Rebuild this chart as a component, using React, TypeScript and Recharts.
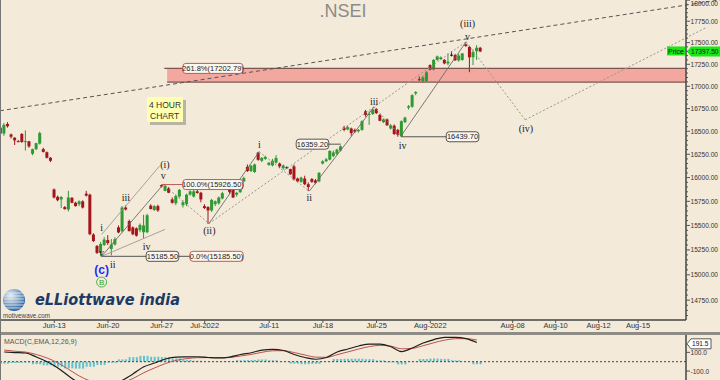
import {
  Bar,
  ComposedChart,
  Line,
  ReferenceArea,
  ReferenceDot,
  ReferenceLine,
  XAxis,
  YAxis,
} from 'recharts';

// 4-hour bars, NIFTY 50, 6 Jun – 5 Aug 2022 (three bars per session)
const opens = [
  16540, 16475, 16580, 16465, 16430, 16392, 16470, 16382, 16390, 16255, 16305, 16365, 16305, 16272, 16212,
  15875, 15797, 15770, 15690, 15665, 15787, 15735, 15720, 15750, 15830, 15820, 15407, 15290, 15220, 15300,
  15350, 15260, 15305, 15480, 15440, 15685, 15545, 15480, 15470, 15451, 15430, 15430, 15705, 15660, 15700,
  15920, 15860, 15885, 15770, 15730, 15800, 15710, 15720, 15820, 15800, 15855, 15840, 15700, 15690, 15655,
  15720, 15730, 15780, 15900, 15880, 15874, 15820, 15845, 15960, 16115, 16070, 16060, 16268, 16180, 16200,
  16135, 16130, 16160, 16150, 16100, 16110, 16090, 16120, 15990, 15955, 15990, 15930, 15985, 15970, 15960,
  16150, 16175, 16192, 16230, 16255, 16290, 16540, 16520, 16530, 16515, 16500, 16515, 16720, 16680, 16690,
  16745, 16680, 16600, 16630, 16530, 16560, 16515, 16445, 16600, 16760, 16770, 16920, 17080, 17060, 17060,
  17240, 17190, 17300, 17310, 17300, 17260, 17360, 17355, 17295, 17300, 17480, 17450, 17330, 17400, 17440,
];
const highs = [
  16560, 16590, 16600, 16475, 16435, 16405, 16480, 16510, 16395, 16310, 16375, 16495, 16320, 16280, 16220,
  15885, 15810, 15805, 15700, 15860, 15795, 15745, 15760, 15760, 15860, 15830, 15420, 15300, 15330, 15380,
  15400, 15360, 15380, 15500, 15700, 15707, 15560, 15490, 15480, 15520, 15610, 15620, 15720, 15710, 15715,
  15927, 15920, 15900, 15790, 15820, 15880, 15760, 15830, 15865, 15870, 15870, 15850, 15720, 15700, 15775,
  15760, 15800, 15850, 15960, 15900, 15885, 15850, 15985, 16010, 16140, 16135, 16150, 16275, 16220, 16235,
  16165, 16200, 16240, 16160, 16140, 16120, 16095, 16140, 16000, 16010, 16020, 15950, 15995, 15985, 16060,
  16185, 16210, 16295, 16290, 16310, 16345, 16560, 16560, 16540, 16530, 16525, 16620, 16735, 16720, 16752,
  16755, 16690, 16640, 16640, 16580, 16575, 16525, 16620, 16660, 16790, 16910, 16945, 17110, 17120, 17172,
  17250, 17310, 17350, 17340, 17310, 17375, 17400, 17370, 17370, 17380, 17490, 17460, 17420, 17470, 17450,
];
const lows = [
  16460, 16450, 16540, 16420, 16350, 16380, 16375, 16290, 16320, 16240, 16295, 16355, 16268, 16205, 16165,
  15780, 15750, 15680, 15665, 15645, 15730, 15695, 15700, 15675, 15800, 15400, 15330, 15210, 15185, 15290,
  15300, 15195, 15295, 15420, 15430, 15655, 15440, 15400, 15385, 15430, 15370, 15420, 15665, 15650, 15640,
  15895, 15855, 15835, 15725, 15710, 15790, 15685, 15700, 15810, 15790, 15830, 15740, 15670, 15515, 15640,
  15700, 15715, 15770, 15870, 15830, 15785, 15800, 15840, 15950, 16060, 16060, 16050, 16180, 16165, 16190,
  16125, 16120, 16150, 16100, 16085, 16095, 16030, 15970, 15950, 15945, 15920, 15858, 15945, 15930, 15950,
  16140, 16165, 16185, 16220, 16240, 16280, 16500, 16510, 16450, 16480, 16485, 16505, 16660, 16570, 16680,
  16690, 16610, 16590, 16560, 16520, 16460, 16440, 16440, 16590, 16740, 16760, 16900, 17060, 17040, 17050,
  17180, 17180, 17290, 17300, 17250, 17240, 17340, 17290, 17280, 17290, 17450, 17160, 17240, 17300, 17390,
];
const closes = [
  16475, 16570, 16555, 16440, 16400, 16388, 16382, 16392, 16335, 16305, 16370, 16480, 16275, 16212, 16180,
  15790, 15762, 15795, 15668, 15790, 15735, 15700, 15750, 15685, 15810, 15410, 15340, 15220, 15310, 15355,
  15320, 15305, 15360, 15428, 15685, 15665, 15441, 15410, 15395, 15505, 15500, 15605, 15670, 15700, 15655,
  15905, 15915, 15840, 15735, 15805, 15870, 15740, 15820, 15855, 15855, 15838, 15770, 15680, 15655, 15765,
  15750, 15790, 15835, 15880, 15850, 15790, 15840, 15975, 15995, 16070, 16128, 16140, 16190, 16210, 16222,
  16160, 16180, 16210, 16120, 16130, 16108, 16035, 15980, 15960, 16000, 15930, 15900, 15955, 15945, 16050,
  16175, 16195, 16285, 16270, 16300, 16336, 16515, 16545, 16480, 16495, 16515, 16610, 16680, 16690, 16740,
  16700, 16615, 16630, 16565, 16565, 16470, 16462, 16610, 16650, 16775, 16900, 16935, 17075, 17100, 17158,
  17190, 17300, 17340, 17330, 17260, 17280, 17358, 17295, 17350, 17375, 17460, 17330, 17390, 17440, 17397.5,
];

// MACD(12,26,9), one reading per session
const macdLine = [
  104, 98, 93, 50, 0, -67, -153, -228, -260, -275, -260, -200, -130, -55, -14, 29, 50, 52, 53, 45, 40, 50,
  77, 96, 125, 133, 120, 77, 45, 26, 45, 104, 136, 168, 189, 189, 160, 109, 147, 200, 237, 261, 261, 248, 205,
];
const signalLine = [
  125, 112, 103, 77, 39, -13, -82, -154, -206, -240, -249, -225, -179, -118, -67, -20, 14, 33, 43, 44, 42, 46,
  61, 78, 101, 117, 118, 98, 72, 49, 47, 75, 105, 136, 162, 175, 167, 138, 143, 171, 203, 231, 246, 247, 232,
];

const tickIdx = [15, 30, 45, 57, 75, 90, 105, 120, 143, 155, 167, 178];
const tickLabels = [
  'Jun-13', 'Jun-20', 'Jun-27', 'Jul-2022', 'Jul-11', 'Jul-18', 'Jul-25', 'Aug-2022',
  'Aug-08', 'Aug-10', 'Aug-12', 'Aug-15',
];

const zone = { from: 46.5, low: 17047, high: 17202.79 };
const lastPrice = 17397.5;
const lastMacd = 191.5;

const waveLabels = [
  { i: 28.2, p: 15476, t: 'i', deg: 'minor' },
  { i: 28.2, p: 15229, t: 'v', deg: 'minor' },
  { i: 31.3, p: 15106, t: 'ii', deg: 'minor' },
  { i: 35, p: 15790, t: 'iii', deg: 'minor' },
  { i: 40.8, p: 15289, t: 'iv', deg: 'minor' },
  { i: 45.4, p: 16020, t: 'v', deg: 'minor' },
  { i: 45.9, p: 16140, t: '(i)', deg: 'minute' },
  { i: 58.3, p: 15444, t: '(ii)', deg: 'minute' },
  { i: 72.3, p: 16353, t: 'i', deg: 'minor' },
  { i: 86.2, p: 15786, t: 'ii', deg: 'minor' },
  { i: 104.3, p: 16832, t: 'iii', deg: 'minor' },
  { i: 112.3, p: 16346, t: 'iv', deg: 'minor' },
  { i: 130.4, p: 17571, t: 'v', deg: 'minor' },
  { i: 130.4, p: 17718, t: '(iii)', deg: 'minute' },
  { i: 146.7, p: 16530, t: '(iv)', deg: 'minute' },
  { i: 28.2, p: 15042, t: '(c)', deg: 'minorAbc' },
  { i: 28.2, p: 14928, t: 'B', deg: 'intermediate' },
];

const priceBoxes = [
  { i: 59.3, p: 17202.79, t: '261.8%(17202.79)', fib: true },
  { i: 59.3, p: 15926.5, t: '100.0%(15926.50)', fib: true },
  { i: 60.3, p: 15185.5, t: '0.0%(15185.50)', fib: true },
  { i: 45.2, p: 15185.5, t: '15185.50', fib: false },
  { i: 87.1, p: 16359.2, t: '16359.20', fib: false },
  { i: 129, p: 16439.7, t: '16439.70', fib: false },
];

// [i1, p1, i2, p2]
const solidLegs = [
  [28.2, 15185, 45.4, 15926],
  [58.2, 15520, 72.2, 16278],
  [86.2, 15856, 104.3, 16770],
  [111.8, 16446, 130, 17510],
];
const dottedLegs = [
  [45.4, 15926, 58.2, 15520],
  [72.2, 16278, 86.2, 15856],
  [104.3, 16770, 111.8, 16446],
  [58.2, 15520, 130, 17510],
  [130, 17510, 146.5, 16626],
  [146.5, 16626, 196.8, 17671],
];
const channelLines = [
  [28.2, 15407, 44.5, 16128],
  [28.2, 15185, 45.9, 15459],
];
const levelLines = [
  { from: 28.2, to: 53.7, p: 15185.5, color: '#555' },
  { from: 45, to: 51.8, p: 15926.5, color: '#c05a55' },
  { from: 87, to: 95, p: 16359.2, color: '#555' },
  { from: 111.8, to: 129, p: 16439.7, color: '#555' },
];
const trendLine = [-0.17, 16726, 200.9, 18004];

const X_MIN = -0.17;
const X_MAX = 191.4;
const Y_MIN = 14557;
const Y_MAX = 18002;

const bars = opens.map((o, i) => ({ i, open: o, high: highs[i], low: lows[i], close: closes[i] }));
const macdData = macdLine.map((m, k) => ({
  i: 3 * k + 1,
  macd: m,
  signal: signalLine[k],
  hist: m - signalLine[k],
}));

const priceTicks: number[] = [];
for (let v = 14600; v <= 18000; v += 50) priceTicks.push(v);

const BG = '#f3eada';
const SANS = '"Liberation Sans", Arial, sans-serif';
const SERIF = '"Liberation Serif", "Times New Roman", serif';

function Candle(props: any) {
  const { x, y, width, height, payload } = props;
  if (y == null || !payload) return null;
  const { open, close, high, low } = payload;
  const top = Math.min(y, y + height);
  const h = Math.abs(height);
  const cx = x + width / 2;
  const lh = Math.log(high);
  const span = lh - Math.log(low) || 1;
  const py = (v: number) => top + (h * (lh - Math.log(v))) / span;
  const flat = Math.abs(close - open) < 4;
  const color = flat ? '#222' : close > open ? '#2e9a33' : '#a3151b';
  const b1 = py(Math.max(open, close));
  const b2 = py(Math.min(open, close));
  return (
    <g>
      <line x1={cx} x2={cx} y1={top} y2={top + h} stroke={color} strokeWidth={1} />
      <rect x={cx - 1.5} y={b1} width={3} height={Math.max(1, b2 - b1)} fill={color} />
    </g>
  );
}

function HistBar(props: any) {
  const { x, y, width, height } = props;
  if (y == null) return null;
  const top = Math.min(y, y + height);
  const h = Math.abs(height);
  const cx = x + width / 2;
  return (
    <g>
      {[-1, 0, 1].map((k) => (
        <rect key={k} x={cx + k * 3.58 - 1} y={top} width={2} height={h} fill="#62c2cd" />
      ))}
    </g>
  );
}

function PriceTick(props: any) {
  const { x, y, payload } = props;
  const v = payload.value;
  const major = v % 250 === 0;
  return (
    <g>
      <line x1={x} x2={x + (major ? 4 : 2)} y1={y} y2={y} stroke="#555" />
      {major && (
        <text x={x + 4.5} y={Math.max(y + 2.5, 6)} fontSize={6.6} fill="#333" fontFamily={SANS}>
          {v.toFixed(2)}
        </text>
      )}
    </g>
  );
}

function MacdTick(props: any) {
  const { x, y, payload } = props;
  return (
    <g>
      <line x1={x} x2={x + 4} y1={y} y2={y} stroke="#555" />
      <text x={x + 4.5} y={y + 2.5} fontSize={6.6} fill="#333" fontFamily={SANS}>
        {payload.value.toFixed(1)}
      </text>
    </g>
  );
}

function WaveText({ cx, cy, t, deg }: any) {
  if (cx == null) return null;
  if (deg === 'intermediate') {
    return (
      <g>
        <circle cx={cx} cy={cy} r={5} fill="none" stroke="#2aa52a" strokeWidth={0.8} />
        <text x={cx} y={cy + 3} textAnchor="middle" fontSize={8} fill="#2aa52a" fontFamily={SANS}>
          {t}
        </text>
      </g>
    );
  }
  const blue = deg === 'minorAbc';
  return (
    <text
      x={cx}
      y={cy + 3.5}
      textAnchor="middle"
      fontSize={blue ? 12 : 10}
      fontWeight={blue ? 'bold' : 'normal'}
      fill={blue ? '#1a2cff' : '#222'}
      fontFamily={blue ? SANS : SERIF}
    >
      {t}
    </text>
  );
}

function PriceBox({ cx, cy, t, fib }: any) {
  if (cx == null) return null;
  const w = t.length * 3.45 + 5;
  return (
    <g>
      <rect
        x={cx - w / 2}
        y={cy - 5}
        width={w}
        height={10}
        rx={3}
        fill="#fbf7f0"
        stroke={fib ? '#c8443e' : '#444'}
        strokeWidth={0.9}
      />
      <text x={cx} y={cy + 2.7} textAnchor="middle" fontSize={7.5} fill="#222" fontFamily={SANS}>
        {t}
      </text>
    </g>
  );
}

function PriceTag({ cx, cy }: any) {
  if (cx == null) return null;
  return (
    <g>
      <rect x={cx - 19} y={cy - 5} width={18} height={9} fill="#18e818" />
      <text x={cx - 10} y={cy + 2.5} textAnchor="middle" fontSize={7} fill="#111" fontFamily={SANS}>
        Price
      </text>
      <path
        d={`M${cx + 1},${cy} L${cx + 5},${cy - 5} L${cx + 34},${cy - 5} L${cx + 34},${cy + 5} L${cx + 5},${cy + 5} Z`}
        fill="#18e818"
      />
      <text x={cx + 5} y={cy + 2.5} fontSize={6.6} fill="#111" fontFamily={SANS}>
        {lastPrice.toFixed(2)}
      </text>
    </g>
  );
}

function MacdTag({ cx, cy }: any) {
  if (cx == null) return null;
  return (
    <g>
      <path
        d={`M${cx + 1},${cy} L${cx + 5},${cy - 5} L${cx + 25},${cy - 5} L${cx + 25},${cy + 5} L${cx + 5},${cy + 5} Z`}
        fill="#fff"
        stroke="#333"
        strokeWidth={0.8}
      />
      <text x={cx + 6} y={cy + 2.5} fontSize={6.6} fill="#111" fontFamily={SANS}>
        {lastMacd.toFixed(1)}
      </text>
    </g>
  );
}

export default function App() {
  return (
    <div style={{ position: 'relative', width: 720, height: 380, background: BG, overflow: 'hidden' }}>
      <style>{`body{margin:0;background:${BG}}`}</style>
      <ComposedChart
        width={720}
        height={332}
        data={bars}
        margin={{ top: 0, right: 0, bottom: 0, left: 0 }}
        style={{ position: 'absolute', left: 0, top: 0 }}
      >
        <XAxis
          dataKey="i"
          type="number"
          domain={[X_MIN, X_MAX]}
          allowDataOverflow
          ticks={tickIdx}
          interval={0}
          tickFormatter={(v: number) => tickLabels[tickIdx.indexOf(v)] ?? ''}
          height={12}
          tickSize={3}
          tickMargin={0}
          tick={{ fontSize: 7.5, fill: '#333', fontFamily: SANS }}
          axisLine={{ stroke: '#444', strokeWidth: 1.5 }}
          tickLine={{ stroke: '#555' }}
        />
        <YAxis
          orientation="right"
          type="number"
          scale="log"
          domain={[Y_MIN, Y_MAX]}
          allowDataOverflow
          ticks={priceTicks}
          interval={0}
          width={34}
          tickSize={0}
          tickMargin={0}
          tickLine={false}
          tick={<PriceTick />}
          axisLine={{ stroke: '#444', strokeWidth: 1.5 }}
        />
        <ReferenceArea
          x1={zone.from}
          x2={X_MAX}
          y1={zone.low}
          y2={zone.high}
          fill="#f2a89e"
          fillOpacity={1}
          stroke="none"
          ifOverflow="visible"
        />
        <ReferenceLine
          segment={[{ x: zone.from - 0.8, y: zone.high }, { x: X_MAX, y: zone.high }]}
          stroke="#7d5550"
          strokeWidth={1.2}
          ifOverflow="visible"
        />
        <ReferenceLine
          segment={[{ x: zone.from, y: zone.low }, { x: X_MAX, y: zone.low }]}
          stroke="#7d5550"
          strokeWidth={1.2}
          ifOverflow="visible"
        />
        <ReferenceLine
          segment={[{ x: trendLine[0], y: trendLine[1] }, { x: trendLine[2], y: trendLine[3] }]}
          stroke="#555"
          strokeWidth={1}
          strokeDasharray="4 3"
          ifOverflow="visible"
        />
        {channelLines.map((l, k) => (
          <ReferenceLine
            key={`c${k}`}
            segment={[{ x: l[0], y: l[1] }, { x: l[2], y: l[3] }]}
            stroke="#a09a92"
            strokeWidth={0.9}
            ifOverflow="visible"
          />
        ))}
        {dottedLegs.map((l, k) => (
          <ReferenceLine
            key={`d${k}`}
            segment={[{ x: l[0], y: l[1] }, { x: l[2], y: l[3] }]}
            stroke="#9a958e"
            strokeWidth={1}
            strokeDasharray="2 2"
            ifOverflow="visible"
          />
        ))}
        {solidLegs.map((l, k) => (
          <ReferenceLine
            key={`s${k}`}
            segment={[{ x: l[0], y: l[1] }, { x: l[2], y: l[3] }]}
            stroke="#6e6a66"
            strokeWidth={0.9}
            ifOverflow="visible"
          />
        ))}
        {levelLines.map((l, k) => (
          <ReferenceLine
            key={`l${k}`}
            segment={[{ x: l.from, y: l.p }, { x: l.to, y: l.p }]}
            stroke={l.color}
            strokeWidth={1}
            ifOverflow="visible"
          />
        ))}
        <Bar
          dataKey={(d: any) => [d.low, d.high]}
          barSize={3}
          shape={<Candle />}
          isAnimationActive={false}
        />
        {priceBoxes.map((b, k) => (
          <ReferenceDot
            key={`b${k}`}
            x={b.i}
            y={b.p}
            ifOverflow="visible"
            shape={(p: any) => <PriceBox {...p} t={b.t} fib={b.fib} />}
          />
        ))}
        {waveLabels.map((w, k) => (
          <ReferenceDot
            key={`w${k}`}
            x={w.i}
            y={w.p}
            ifOverflow="visible"
            shape={(p: any) => <WaveText {...p} t={w.t} deg={w.deg} />}
          />
        ))}
        <ReferenceDot x={X_MAX} y={lastPrice} ifOverflow="visible" shape={(p: any) => <PriceTag {...p} />} />
      </ComposedChart>

      <div style={{ position: 'absolute', left: 0, top: 332, width: 720, height: 3, background: '#8f8c86' }} />

      <ComposedChart
        width={720}
        height={45}
        data={macdData}
        margin={{ top: 0, right: 0, bottom: 0, left: 0 }}
        style={{ position: 'absolute', left: 0, top: 335 }}
      >
        <XAxis dataKey="i" type="number" domain={[X_MIN, X_MAX]} allowDataOverflow hide />
        <YAxis
          orientation="right"
          type="number"
          domain={[-196, 286]}
          allowDataOverflow
          ticks={[100, -100]}
          interval={0}
          width={34}
          tickSize={0}
          tickMargin={0}
          tickLine={false}
          tick={<MacdTick />}
          axisLine={{ stroke: '#444', strokeWidth: 1.5 }}
        />
        <ReferenceLine y={0} stroke="#444" strokeDasharray="2 2" />
        <Bar dataKey="hist" barSize={3} shape={<HistBar />} isAnimationActive={false} />
        <Line dataKey="signal" type="monotone" stroke="#c0504a" strokeWidth={1} dot={false} isAnimationActive={false} />
        <Line dataKey="macd" type="monotone" stroke="#1e1e1e" strokeWidth={1.2} dot={false} isAnimationActive={false} />
        <ReferenceDot x={X_MAX} y={lastMacd} ifOverflow="visible" shape={(p: any) => <MacdTag {...p} />} />
      </ComposedChart>

      <svg width={720} height={380} style={{ position: 'absolute', left: 0, top: 0, pointerEvents: 'none' }}>
        <line x1={0.5} x2={0.5} y1={0} y2={380} stroke="#777" />
        <text x={343} y={17} textAnchor="middle" fontSize={18} fill="#8b8b8b" fontFamily={SANS}>
          .NSEI
        </text>
        <rect x={150} y={100} width={36} height={25} fill="#b9b4a8" />
        <rect x={147} y={97} width={36} height={25} fill="#ffffb0" />
        <text x={149} y={108} fontSize={8.5} fill="#333" fontFamily={SANS}>4 HOUR</text>
        <text x={150} y={119} fontSize={8.5} fill="#333" fontFamily={SANS}>CHART</text>
        <text x={4} y={344} fontSize={7} fill="#555" fontFamily={SANS}>MACD(C,EMA,12,26,9)</text>
        <defs>
          <radialGradient id="globe" cx="35%" cy="30%" r="75%">
            <stop offset="0%" stopColor="#e4f0fb" />
            <stop offset="100%" stopColor="#1f5fa6" />
          </radialGradient>
        </defs>
        <circle cx={14} cy={300} r={11} fill="url(#globe)" />
        {[-7, -4, -1, 2, 5, 8].map((d) => (
          <line key={d} x1={4} x2={24} y1={300 + d} y2={300 + d} stroke="#f3eada" strokeWidth={0.8} />
        ))}
        <text
          x={35}
          y={305}
          fontSize={15}
          fontStyle="italic"
          fontWeight="bold"
          fill="#1d3a66"
          fontFamily='"DejaVu Sans", sans-serif'
          textLength={145}
          lengthAdjust="spacingAndGlyphs"
        >
          eLLiottwave india
        </text>
        <text x={3} y={318} fontSize={7} fill="#444" fontFamily={SANS} textLength={47} lengthAdjust="spacingAndGlyphs">
          motivewave.com
        </text>
      </svg>
    </div>
  );
}
